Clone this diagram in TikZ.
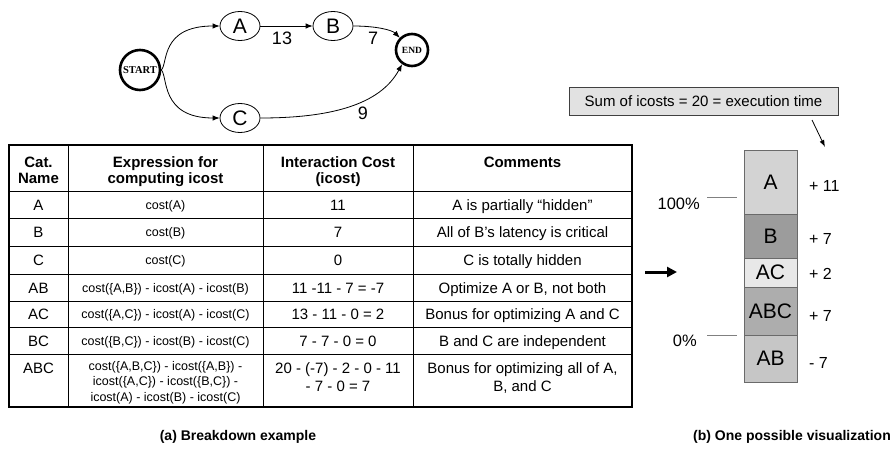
\documentclass[tikz,border=0pt]{standalone}
\usepackage{fontspec}
\setmainfont{Liberation Sans}
\newfontfamily\serifbold{Liberation Serif}
\usetikzlibrary{arrows.meta,shapes.geometric}
\definecolor{barA}{HTML}{D3D3D3}
\definecolor{barB}{HTML}{9C9C9C}
\definecolor{barAC}{HTML}{E8E8E8}
\definecolor{barABC}{HTML}{ADADAD}
\definecolor{barAB}{HTML}{C6C6C6}
\definecolor{barline}{HTML}{6A6A6A}
\definecolor{tickgray}{HTML}{808080}
\definecolor{sumfill}{HTML}{E2E2E2}
\newcommand{\cellstack}[1]{\begin{tabular}[t]{@{}c@{}}#1\end{tabular}}
\begin{document}
\begin{tikzpicture}[x=1pt,y=-1pt,
  state/.style={ellipse, draw, line width=0.8pt, minimum width=40pt, minimum height=29pt,
    inner sep=0pt, font=\fontsize{21}{21}\selectfont},
  endpoint/.style={circle, draw, line width=2.6pt, inner sep=0pt,
    font=\serifbold\bfseries\fontsize{10.5}{10.5}\selectfont},
  flow/.style={-{Latex[length=7pt,width=5.5pt]}, line width=0.8pt},
  weight/.style={inner sep=0pt, font=\fontsize{18}{18}\selectfont},
  frame/.style={line width=2.6pt},
  rule/.style={line width=0.8pt},
  hd/.style={anchor=base, inner sep=0pt, font=\bfseries\fontsize{15}{16}\selectfont},
  cell/.style={anchor=base, inner sep=0pt, font=\fontsize{15}{18}\selectfont},
  expr/.style={anchor=base, inner sep=0pt, font=\fontsize{12.5}{15.5}\selectfont},
  seg/.style={draw=barline, line width=1pt, minimum width=53pt, inner sep=0pt,
    font=\fontsize{21}{21}\selectfont},
  delta/.style={anchor=base west, inner sep=0pt, font=\fontsize{16}{16}\selectfont},
  pct/.style={anchor=base east, inner sep=0pt, font=\fontsize{16.5}{16.5}\selectfont},
  tick/.style={draw=tickgray, line width=1pt},
  sumbox/.style={draw=black!75, fill=sumfill, line width=0.8pt, minimum width=269pt,
    minimum height=28pt, inner sep=0pt, font=\fontsize{15}{15}\selectfont},
  caption/.style={inner sep=0pt, font=\bfseries\fontsize{14}{14}\selectfont}
]
\useasboundingbox (0,0) rectangle (891,452);

% ---------- dependence graph ----------
\node[endpoint, minimum size=40pt] (start) at (140,70) {START};
\node[state] (A) at (240,26) {A};
\node[state] (B) at (333,26) {B};
\node[state] (C) at (240,118) {C};
\node[endpoint, minimum size=32pt, font=\serifbold\bfseries\fontsize{9.5}{9.5}\selectfont] (end) at (412,50) {END};

\draw[flow] (start.east) .. controls (168,64) and (160,26) .. (A.west);
\draw[flow] (start.east) .. controls (168,76) and (160,118) .. (C.west);
\draw[flow] (A) -- (B);
\draw[flow] (B.east) .. controls (376,26) and (392,30) .. (end.north west);
\draw[flow] (C.east) .. controls (330,118) and (380,105) .. (end.235);

\node[weight] (w13) at (282,38) {13};
\node[weight] (w7) at (373,38) {7};
\node[weight] (w9) at (363,113) {9};

% ---------- breakdown table ----------
\draw[frame] (9,145) rectangle (632,407);
\foreach \yy in {191,218,246,274,301,327,354}
  \draw[rule] (9,\yy) -- (632,\yy);
\foreach \xx in {68,263,413}
  \draw[rule] (\xx,145) -- (\xx,407);

\node[hd] (hCat) at (38.5,167) {\cellstack{Cat.\\Name}};
\node[hd] (hExpr) at (165.5,167) {\cellstack{Expression for\\computing icost}};
\node[hd] (hCost) at (338,167) {\cellstack{Interaction Cost\\(icost)}};
\node[hd] (hCom) at (522.5,167) {Comments};

\node[cell] (cA) at (38.5,210) {A};
\node[expr] (eA) at (165.5,209) {cost(A)};
\node[cell] (iA) at (338,210) {11};
\node[cell] (mA) at (522.5,210) {A is partially “hidden”};

\node[cell] (cB) at (38.5,237.5) {B};
\node[expr] (eB) at (165.5,236.5) {cost(B)};
\node[cell] (iB) at (338,237.5) {7};
\node[cell] (mB) at (522.5,237.5) {All of B’s latency is critical};

\node[cell] (cC) at (38.5,265.5) {C};
\node[expr] (eC) at (165.5,264.5) {cost(C)};
\node[cell] (iC) at (338,265.5) {0};
\node[cell] (mC) at (522.5,265.5) {C is totally hidden};

\node[cell] (cAB) at (38.5,293) {AB};
\node[expr] (eAB) at (165.5,292) {cost(\{A,B\}) - icost(A) - icost(B)};
\node[cell] (iAB) at (338,293) {11 -11 - 7 = -7};
\node[cell] (mAB) at (522.5,293) {Optimize A or B, not both};

\node[cell] (cAC) at (38.5,319.5) {AC};
\node[expr] (eAC) at (165.5,318.5) {cost(\{A,C\}) - icost(A) - icost(C)};
\node[cell] (iAC) at (338,319.5) {13 - 11 - 0 = 2};
\node[cell] (mAC) at (522.5,319.5) {Bonus for optimizing A and C};

\node[cell] (cBC) at (38.5,346) {BC};
\node[expr] (eBC) at (165.5,345) {cost(\{B,C\}) - icost(B) - icost(C)};
\node[cell] (iBC) at (338,346) {7 - 7 - 0 = 0};
\node[cell] (mBC) at (522.5,346) {B and C are independent};

\node[cell] (cABC) at (38.5,373.5) {ABC};
\node[expr] (eABC) at (165.5,370) {\cellstack{cost(\{A,B,C\}) - icost(\{A,B\}) -\\icost(\{A,C\}) - icost(\{B,C\}) -\\icost(A) - icost(B) - icost(C)}};
\node[cell] (iABC) at (338,373.5) {\cellstack{20 - (-7) - 2 - 0 - 11\\- 7 - 0 = 7}};
\node[cell] (mABC) at (522.5,373.5) {\cellstack{Bonus for optimizing all of A,\\B, and C}};

% ---------- visualization ----------
\coordinate (bigtail) at (645,272);
\coordinate (bighead) at (677,272);
\draw[line width=3pt, -{Triangle[length=10pt,width=10pt]}] (bigtail) -- (bighead);

\node[sumbox] (sum) at (703.5,101) {Sum of icosts = 20 = execution time};
\coordinate (sumfoot) at (812,120);
\coordinate (sumtip) at (825,147);
\draw[-{Latex[length=7pt,width=5pt]}, line width=0.8pt] (sumfoot) -- (sumtip);

\node[seg, fill=barA, minimum height=64pt] (sA) at (770.5,182) {A};
\node[seg, fill=barB, minimum height=44pt] (sB) at (770.5,236) {B};
\node[seg, fill=barAC, minimum height=29pt] (sAC) at (770.5,272.5) {AC};
\node[seg, fill=barABC, minimum height=48pt] (sABC) at (770.5,311) {ABC};
\node[seg, fill=barAB, minimum height=47pt] (sAB) at (770.5,358.5) {AB};

\node[delta] (dA) at (809,191) {+ 11};
\node[delta] (dB) at (809,244) {+ 7};
\node[delta] (dAC) at (809,279) {+ 2};
\node[delta] (dABC) at (809,321) {+ 7};
\node[delta] (dAB) at (809,368) {- 7};

\node[pct] (p100) at (700,209) {100\%};
\coordinate (t100a) at (707,197);
\coordinate (t100b) at (737,197);
\draw[tick] (t100a) -- (t100b);
\node[pct] (p0) at (697,346) {0\%};
\coordinate (t0a) at (707,335);
\coordinate (t0b) at (737,335);
\draw[tick] (t0a) -- (t0b);

% ---------- captions ----------
\node[caption] (capA) at (238,437) {(a) Breakdown example};
\node[caption] (capB) at (792,437) {(b) One possible visualization};
\end{tikzpicture}
\end{document}
